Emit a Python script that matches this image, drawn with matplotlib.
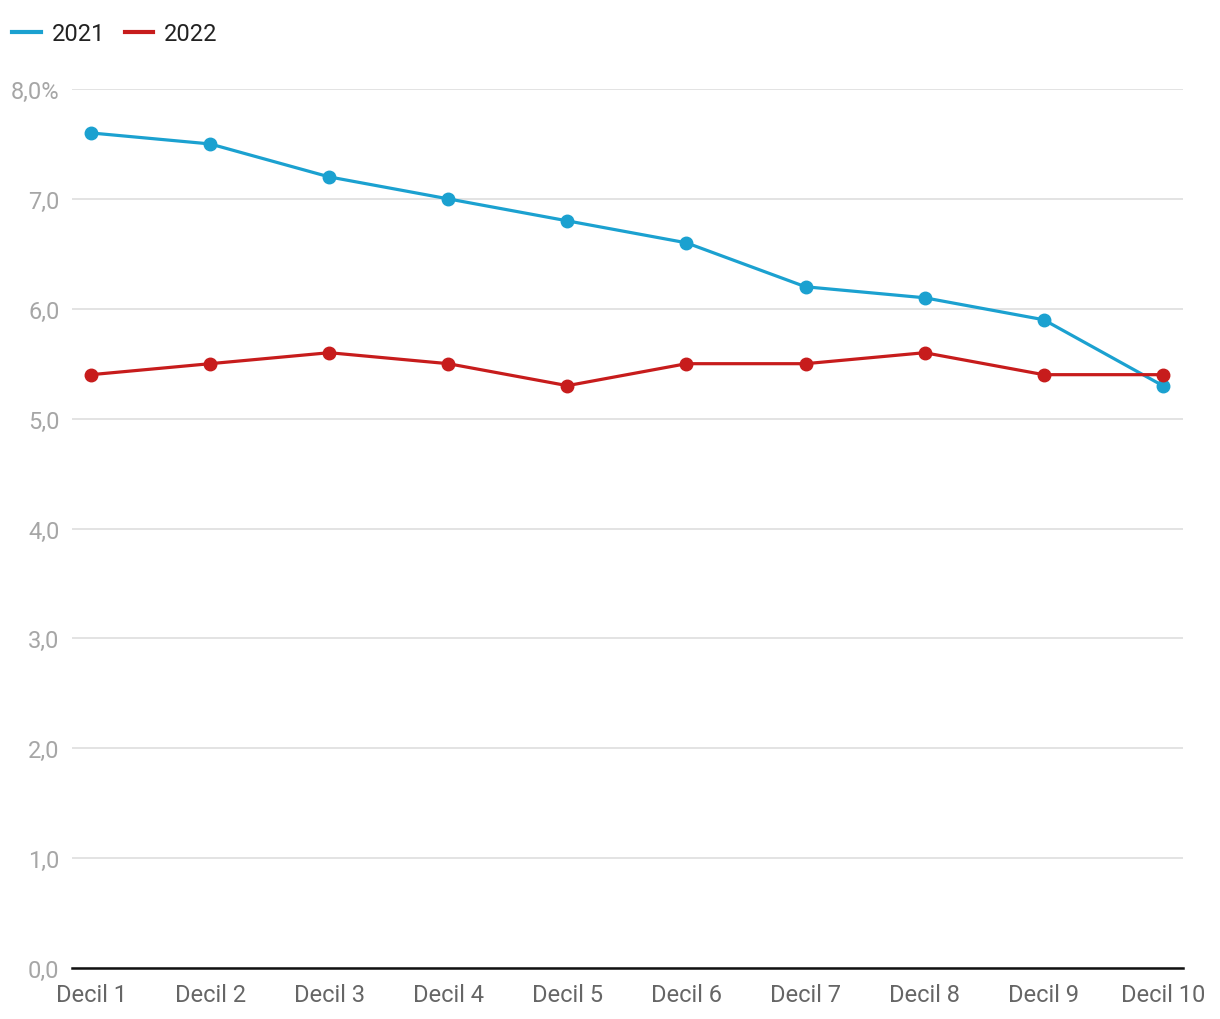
import matplotlib
matplotlib.use("Agg")
import matplotlib.pyplot as plt
from matplotlib.lines import Line2D

categories = ["Decil 1", "Decil 2", "Decil 3", "Decil 4", "Decil 5",
              "Decil 6", "Decil 7", "Decil 8", "Decil 9", "Decil 10"]
series_2021 = [7.6, 7.5, 7.2, 7.0, 6.8, 6.6, 6.2, 6.1, 5.9, 5.3]
series_2022 = [5.4, 5.5, 5.6, 5.5, 5.3, 5.5, 5.5, 5.6, 5.4, 5.4]
y_ticks = [0, 1, 2, 3, 4, 5, 6, 7, 8]
y_tick_labels = ["0,0", "1,0", "2,0", "3,0", "4,0", "5,0", "6,0", "7,0", "8,0%"]

plt.rcParams['font.family'] = ['Roboto', 'DejaVu Sans']

BLUE = "#1ba1d0"
RED = "#c71c1c"

fig = plt.figure(figsize=(12.2, 10.2), dpi=100)
ax = fig.add_axes([72/1220, 1-969/1020, (1183-72)/1220, (969-90)/1020])

x = list(range(len(categories)))
ax.plot(x, series_2021, color=BLUE, lw=2.3, marker='o', ms=9, zorder=3, clip_on=False)
ax.plot(x, series_2022, color=RED, lw=2.3, marker='o', ms=9, zorder=4, clip_on=False)

ax.set_xlim(-0.16, 9.17)
ax.set_ylim(0, 8)
ax.set_yticks(y_ticks)
ax.set_yticklabels(y_tick_labels, color="#a6a6a6", fontsize=17)
ax.set_xticks(x)
ax.set_xticklabels(categories, color="#666666", fontsize=17)
ax.tick_params(axis='y', length=0, pad=9)
ax.tick_params(axis='x', length=0, pad=11)
ax.grid(axis='y', color="#e0e0e0", lw=1.3)
ax.set_axisbelow(True)
for s in ['top', 'right', 'left']:
    ax.spines[s].set_visible(False)
ax.spines['bottom'].set_color("#111111")
ax.spines['bottom'].set_linewidth(1.8)
ax.spines['bottom'].set_zorder(5)

handles = [Line2D([], [], color=BLUE, lw=3), Line2D([], [], color=RED, lw=3)]
fig.legend(handles, ["2021", "2022"], loc='upper left',
           bbox_to_anchor=(3/1220, 1-14/1020),
           ncol=2, frameon=False, fontsize=17, handlelength=1.2, handletextpad=0.45,
           columnspacing=0.85, borderaxespad=0.0, labelcolor="#222222")

fig.savefig("out.png", dpi=100, facecolor="white")
